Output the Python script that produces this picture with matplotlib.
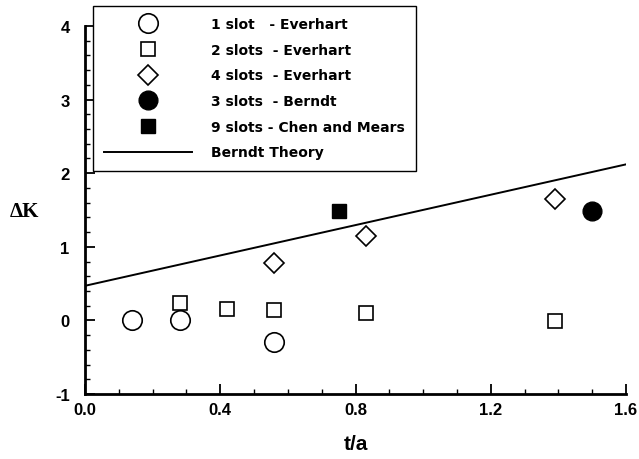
import matplotlib
matplotlib.use("Agg")
import matplotlib.pyplot as plt
from matplotlib.ticker import MultipleLocator, FormatStrFormatter

# Incremental loss coefficient vs. slot depth ratio
slot1_x = [0.14, 0.28, 0.56]
slot1_y = [0.00, 0.00, -0.30]

slot2_x = [0.28, 0.42, 0.56, 0.83, 1.39]
slot2_y = [0.23, 0.16, 0.14, 0.10, -0.01]

slot4_x = [0.56, 0.83, 1.39]
slot4_y = [0.78, 1.15, 1.65]

slot3_x = [1.50]
slot3_y = [1.49]

slot9_x = [0.75]
slot9_y = [1.49]

theory_x = [0.0, 1.6]
theory_y = [0.47, 2.12]

labels = ["1 slot   - Everhart", "2 slots  - Everhart", "4 slots  - Everhart",
          "3 slots  - Berndt", "9 slots - Chen and Mears", "Berndt Theory"]

plt.rcParams["font.family"] = ["Liberation Sans", "DejaVu Sans"]
plt.rcParams["font.weight"] = "bold"
plt.rcParams["axes.unicode_minus"] = False

fig = plt.figure(figsize=(6.39, 4.6), dpi=100)
ax = fig.add_axes([85/639, 1-395/460, (626-85)/639, (395-27)/460])

mew = 1.2
h1, = ax.plot(slot1_x, slot1_y, "o", ms=14, mfc="white", mec="black", mew=mew, ls="none")
h2, = ax.plot(slot2_x, slot2_y, "s", ms=9.5, mfc="white", mec="black", mew=mew, ls="none")
h3, = ax.plot(slot4_x, slot4_y, "D", ms=10, mfc="white", mec="black", mew=mew, ls="none")
h4, = ax.plot(slot3_x, slot3_y, "o", ms=13.5, mfc="black", mec="black", ls="none")
h5, = ax.plot(slot9_x, slot9_y, "s", ms=9.5, mfc="black", mec="black", ls="none")
h6, = ax.plot(theory_x, theory_y, "-", color="black", lw=1.4)

ax.set_xlim(0, 1.6)
ax.set_ylim(-1, 4)
ax.xaxis.set_major_locator(MultipleLocator(0.4))
ax.xaxis.set_minor_locator(MultipleLocator(0.1))
ax.yaxis.set_major_locator(MultipleLocator(1))
ax.yaxis.set_minor_locator(MultipleLocator(0.2))
ax.xaxis.set_major_formatter(FormatStrFormatter("%.1f"))

for s in ["top", "right"]:
    ax.spines[s].set_visible(False)
for s in ["left", "bottom"]:
    ax.spines[s].set_linewidth(2.0)

ax.tick_params(which="major", direction="in", length=7, width=1.3, labelsize=12)
ax.tick_params(which="minor", direction="in", length=3.5, width=1.0)
ax.tick_params(axis="y", which="major", pad=11)
ax.tick_params(axis="x", which="major", pad=6)
for lab in ax.get_xticklabels() + ax.get_yticklabels():
    lab.set_fontweight("bold")

fig.text(356/639, 1-445/460, "t/a", ha="center", va="center",
         fontsize=15, fontweight="bold")
fig.text(24/639, 1-212/460, "ΔK", ha="center", va="center",
         fontsize=15, fontweight="bold", family=["Liberation Serif", "DejaVu Serif"])

leg = ax.legend([h1, h2, h3, h4, h5, h6], labels,
                loc="upper left", bbox_to_anchor=(93/639, 1-7/460),
                bbox_transform=fig.transFigure, borderaxespad=0,
                frameon=True, fancybox=False, framealpha=1, edgecolor="black",
                handlelength=6.3, handletextpad=1.4,
                borderpad=0.8, labelspacing=0.84,
                prop={"weight": "bold", "size": 10, "family": "DejaVu Sans"})
leg.get_frame().set_linewidth(1.0)

fig.savefig("out.png", dpi=100)
